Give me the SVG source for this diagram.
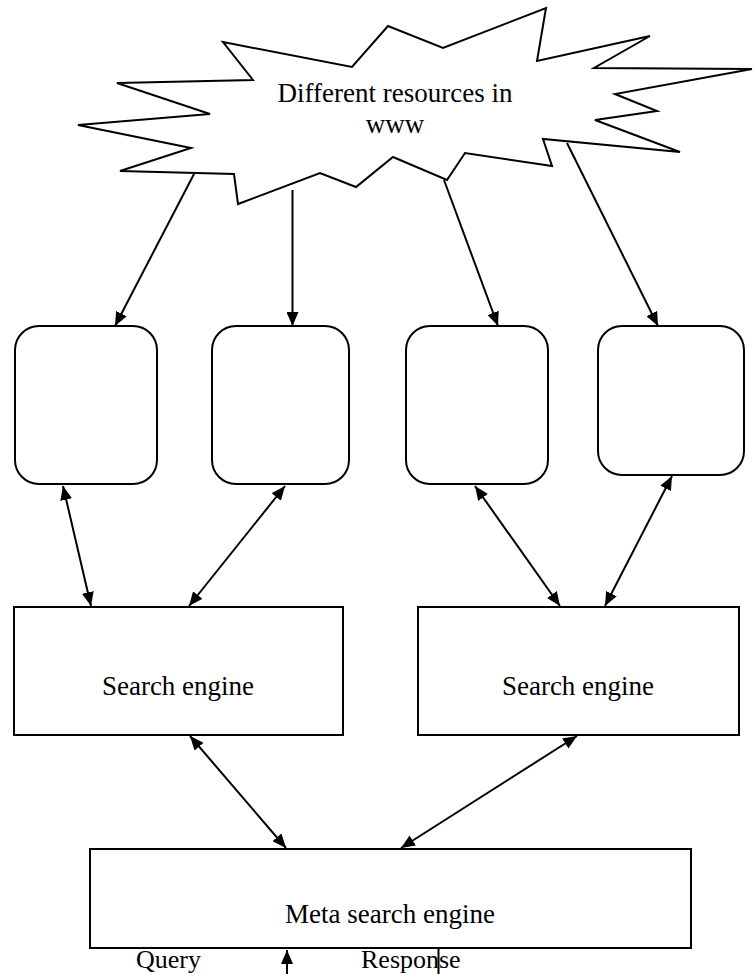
<svg xmlns="http://www.w3.org/2000/svg" width="755" height="974" viewBox="0 0 755 974">
<style>
.s{fill:#fff;stroke:#000;stroke-width:2;stroke-linejoin:miter}
.t{font-family:"Liberation Serif","Times New Roman",serif;font-size:27px;fill:#000;text-anchor:middle}
.l{font-family:"Liberation Serif","Times New Roman",serif;font-size:26px;fill:#000}
.c{stroke:#000;stroke-width:2;fill:none}
.a{marker-end:url(#ah)}
.d{marker-start:url(#ah);marker-end:url(#ah)}
</style>
<defs>
<marker id="ah" viewBox="0 0 14 12" refX="14" refY="6" markerWidth="14" markerHeight="12" markerUnits="userSpaceOnUse" orient="auto-start-reverse">
<path d="M0,0 L14,6 L0,12 z" fill="#000"/>
</marker>
</defs>
<rect width="755" height="974" fill="#fff"/>
<g id="www">
<polygon class="s" points="223,42 352,67 388,26 443,48 546,8 537,61 650,36 594,68 752,69 615,94 657,111 595,120 680,152 543,139 552,166 465,153 447,180 393,157 356,187 320,173 238,204 234,174 120,171 191,148 78,125 210,114 117,83 253,80"/>
<text class="t" x="395" y="102">Different resources in</text>
<text class="t" x="395" y="133">www</text>
</g>
<g id="r1"><rect class="s" x="15" y="326" width="142" height="158" rx="24" ry="24"/></g>
<g id="r2"><rect class="s" x="212" y="326" width="137" height="158" rx="24" ry="24"/></g>
<g id="r3"><rect class="s" x="406" y="326" width="142" height="158" rx="24" ry="24"/></g>
<g id="r4"><rect class="s" x="598" y="326" width="146" height="149" rx="24" ry="24"/></g>
<g id="se1"><rect class="s" x="14" y="607" width="329" height="128"/><text class="t" x="178" y="695">Search engine</text></g>
<g id="se2"><rect class="s" x="418" y="607" width="321" height="128"/><text class="t" x="578" y="695">Search engine</text></g>
<g id="meta"><rect class="s" x="90" y="849" width="601" height="99"/><text class="t" x="390" y="923">Meta search engine</text></g>
<g id="labels">
<text class="l" x="136" y="968">Query</text>
<text class="l" x="361" y="968">Response</text>
</g>
<g id="connectors">
<line class="c a" x1="194" y1="174" x2="115" y2="326"/>
<line class="c a" x1="292.5" y1="190" x2="292.5" y2="326"/>
<line class="c a" x1="444" y1="180" x2="498" y2="326"/>
<line class="c a" x1="567" y1="143" x2="658" y2="326"/>
<line class="c d" x1="63" y1="486" x2="91" y2="606"/>
<line class="c d" x1="285" y1="486" x2="189" y2="606"/>
<line class="c d" x1="475" y1="486" x2="560" y2="606"/>
<line class="c d" x1="672" y1="476" x2="605" y2="606"/>
<line class="c d" x1="190" y1="736" x2="286" y2="848"/>
<line class="c d" x1="577" y1="736" x2="401" y2="848"/>
<line class="c a" x1="287" y1="974" x2="287" y2="950"/>
<line class="c" x1="438.5" y1="948" x2="438.5" y2="974"/>
</g>
</svg>
